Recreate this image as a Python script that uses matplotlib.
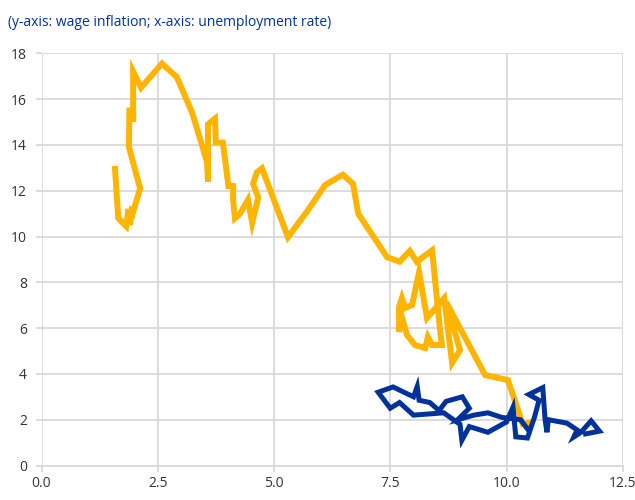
import matplotlib.pyplot as plt

# orange series
orange_x = [1.58, 1.65, 1.82, 1.87, 1.90, 1.95, 1.93, 2.12, 1.88, 1.89, 1.97, 1.97, 1.97,
            2.14, 2.59, 2.91, 3.24, 3.56, 3.58, 3.58, 3.73, 3.75, 3.90, 4.02, 4.12, 4.12,
            4.16, 4.27, 4.44, 4.53, 4.66, 4.55, 4.63, 4.74, 5.30, 5.73, 6.10, 6.48, 6.70,
            6.81, 7.43, 7.70, 7.92, 8.07, 8.40, 8.57, 8.61, 8.40, 8.31, 8.25, 8.03, 7.86,
            7.75, 7.69, 7.69, 7.75, 7.82, 7.97, 8.12, 8.29, 8.66, 8.83, 9.00, 8.70, 9.54,
            10.03, 10.35, 10.50]
orange_y = [12.95, 10.8, 10.45, 11.2, 10.5, 11.3, 10.8, 12.1, 13.9, 15.5, 15.5, 15.0, 17.2,
            16.5, 17.55, 16.96, 15.4, 13.25, 12.4, 14.9, 15.15, 14.1, 14.1, 12.2, 12.2, 11.6,
            10.8, 11.0, 11.6, 10.6, 11.7, 12.3, 12.8, 12.98, 9.97, 11.15, 12.25, 12.7, 12.3,
            11.0, 9.1, 8.9, 9.37, 8.9, 9.4, 5.92, 5.26, 5.26, 5.61, 5.13, 5.26, 5.70,
            6.48, 5.83, 6.92, 7.31, 6.88, 7.01, 8.45, 6.44, 7.31, 4.48, 5.04, 7.14, 3.95,
            3.73, 1.81, 1.86]

# blue series
blue_x = [11.70, 12.00, 11.82, 11.60, 11.45, 11.52, 11.30, 10.90, 10.87, 10.83, 10.78,
          10.48, 10.70, 10.60, 10.45, 10.20, 10.14, 10.00, 9.60, 9.20, 9.04, 9.00, 8.65,
          8.00, 7.70, 7.50, 7.24, 7.56, 8.00, 8.08, 8.12, 8.35, 8.55, 8.70, 9.05, 9.20,
          8.95, 9.30, 9.60, 9.90, 10.30, 10.45]
blue_y = [1.38, 1.50, 1.95, 1.45, 1.25, 1.55, 1.85, 2.00, 1.45, 2.00, 3.40,
          3.10, 2.85, 2.10, 1.20, 1.25, 2.55, 1.90, 1.45, 1.70, 1.10, 1.80, 2.30,
          2.20, 2.75, 2.50, 3.20, 3.43, 3.00, 3.45, 2.85, 2.75, 2.40, 2.80, 3.00, 2.50,
          2.00, 2.20, 2.30, 2.10, 2.00, 1.60]

x_ticks = [0.0, 2.5, 5.0, 7.5, 10.0, 12.5]
y_ticks = list(range(0, 19, 2))

plt.rcParams['font.family'] = ['Open Sans', 'DejaVu Sans']

fig = plt.figure(figsize=(6.35, 5), dpi=100)
ax = fig.add_axes([0.0654, 0.069, 0.9153, 0.8244])

ax.plot(orange_x, orange_y, color='#FFB400', lw=4.3, solid_joinstyle='miter', zorder=3)
ax.plot(blue_x, blue_y, color='#003299', lw=3.6, solid_joinstyle='miter', zorder=4)

ax.set_xlim(0, 12.5)
ax.set_ylim(0, 18)
ax.set_xticks(x_ticks)
ax.set_xticklabels(['%.1f' % t for t in x_ticks])
ax.set_yticks(y_ticks)

ax.grid(True, color='#d9d9d9', lw=1.3, zorder=0)
ax.set_axisbelow(True)
for s in ['top', 'right', 'left']:
    ax.spines[s].set_visible(False)
ax.spines['bottom'].set_color('#d9d9d9')
ax.spines['bottom'].set_linewidth(1.3)
ax.tick_params(axis='both', colors='#d9d9d9', labelcolor='#333333', labelsize=10,
               width=1.3, length=4)
ax.tick_params(axis='y', pad=6.5)
ax.tick_params(axis='x', pad=3.5)

fig.text(0.012, 0.955, '(y-axis: wage inflation; x-axis: unemployment rate)',
         color='#003299', fontsize=10, va='center', ha='left')

fig.savefig('out.png', dpi=100)
